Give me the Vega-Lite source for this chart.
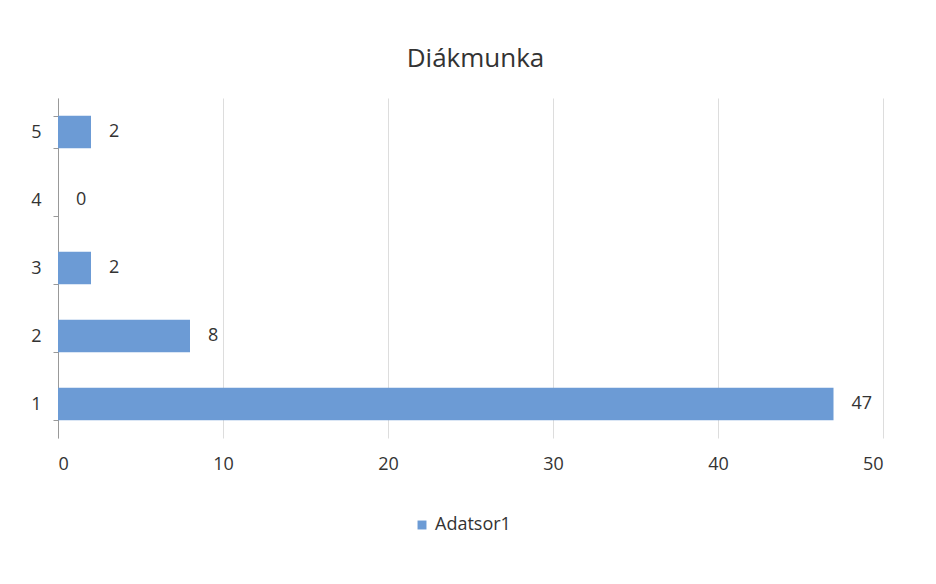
{
  "$schema": "https://vega.github.io/schema/vega-lite/v6.json",
  "autosize": {"type": "none"},
  "width": 825,
  "height": 340,
  "padding": {"left": 58, "top": 98, "right": 53, "bottom": 146},
  "background": "white",
  "config": {"view": {"stroke": null}},
  "title": {"text": "Diákmunka", "font": "Open Sans", "fontSize": 26, "fontWeight": "normal", "color": "#333333", "anchor": "middle", "offset": 17, "dx": 5},
  "data": {"values": [
    {"kat": "1", "ertek": 47, "sorozat": "Adatsor1"},
    {"kat": "2", "ertek": 8, "sorozat": "Adatsor1"},
    {"kat": "3", "ertek": 2, "sorozat": "Adatsor1"},
    {"kat": "4", "ertek": 0, "sorozat": "Adatsor1"},
    {"kat": "5", "ertek": 2, "sorozat": "Adatsor1"}
  ]},
  "encoding": {
    "y": {"field": "kat", "type": "nominal", "sort": "descending",
      "scale": {"paddingInner": 0.52, "paddingOuter": 0.26},
      "axis": {"title": null, "labelFont": "Open Sans", "labelFontSize": 18, "labelColor": "#333333", "labelPadding": 12, "domainColor": "#999999", "tickColor": "#999999", "tickBand": "extent", "tickSize": 5, "grid": false}},
    "x": {"field": "ertek", "type": "quantitative", "scale": {"domain": [0, 50], "nice": false},
      "axis": {"title": null, "values": [0, 10, 20, 30, 40, 50], "labelFont": "Open Sans", "labelFontSize": 18, "labelColor": "#333333", "labelPadding": 17, "domain": false, "ticks": false, "grid": true, "gridColor": "#dddddd"}}
  },
  "layer": [
    {"mark": {"type": "bar"},
      "encoding": {"color": {"field": "sorozat", "type": "nominal", "scale": {"range": ["#6c9bd5"]},
        "legend": {"title": null, "orient": "none", "legendX": 355, "legendY": 418, "labelFont": "Open Sans", "labelFontSize": 18, "labelColor": "#333333", "symbolType": "square", "symbolSize": 80}}}},
    {"mark": {"type": "text", "align": "left", "dx": 18, "font": "Open Sans", "fontSize": 18, "color": "#333333"},
      "encoding": {"text": {"field": "ertek", "type": "quantitative"}}}
  ]
}
